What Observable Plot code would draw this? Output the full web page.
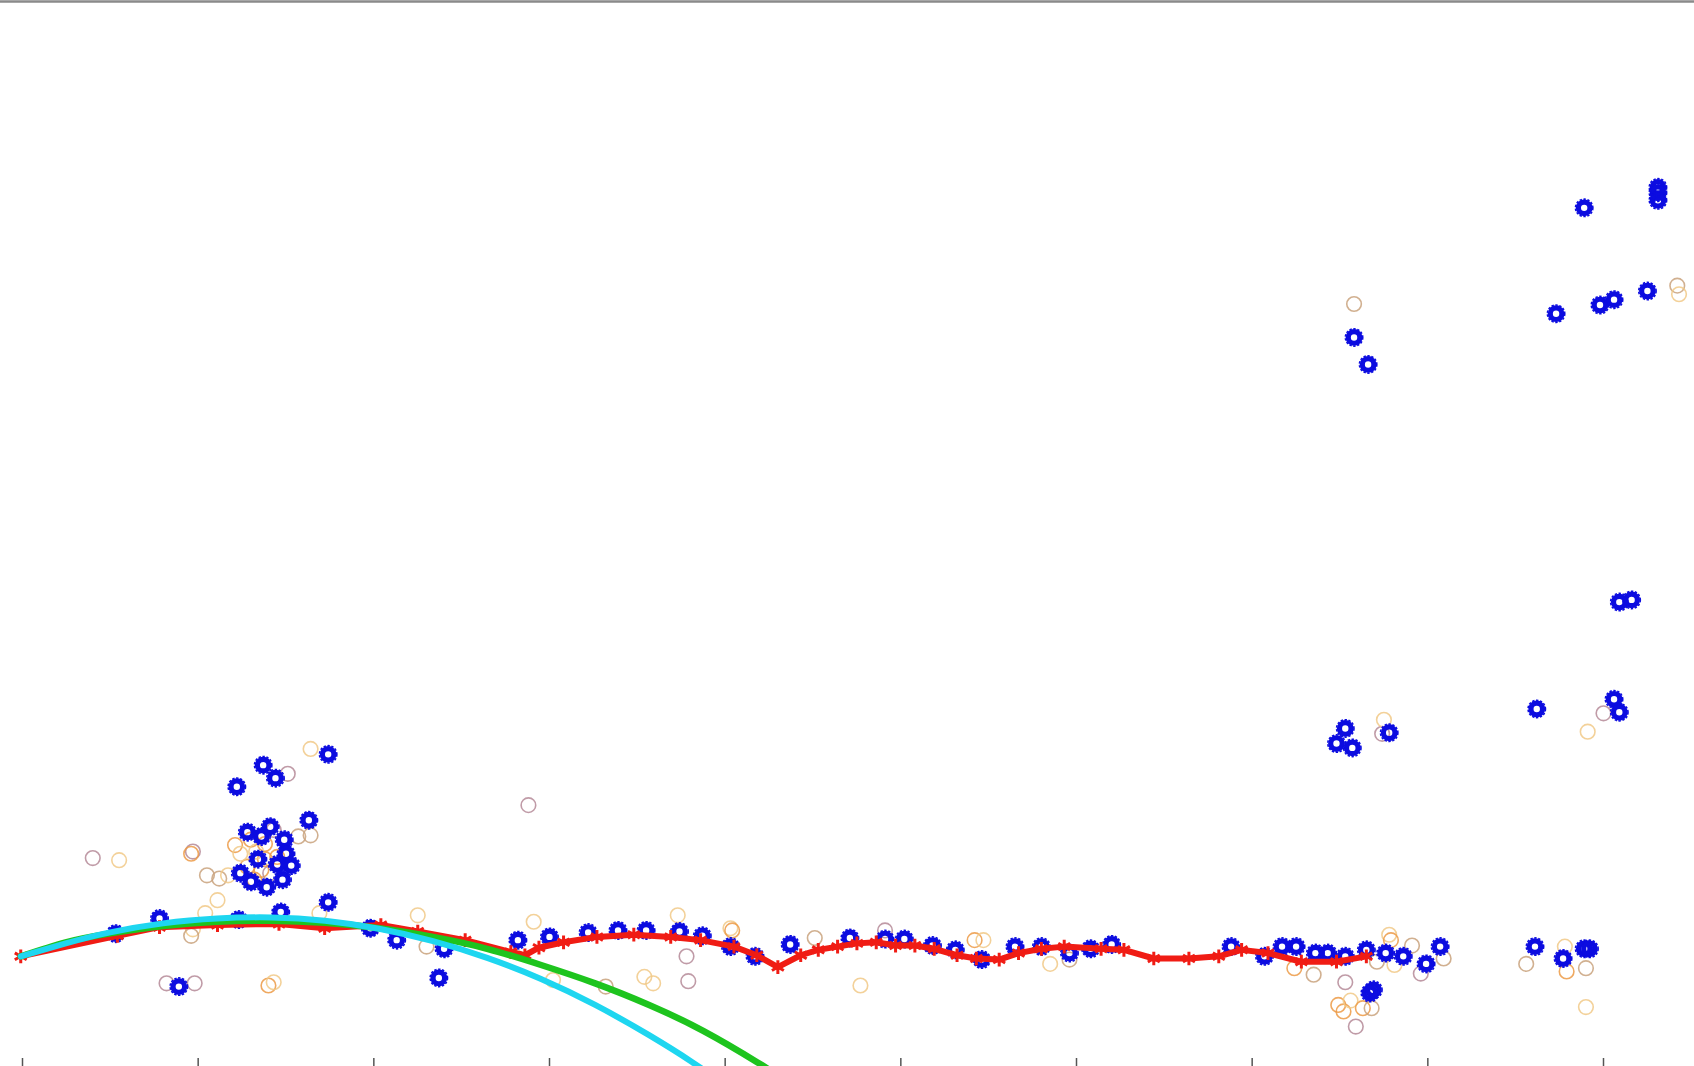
<!DOCTYPE html>
<html>
<head>
<meta charset="utf-8">
<script src="https://cdn.jsdelivr.net/npm/d3@7"></script>
<script src="https://cdn.jsdelivr.net/npm/@observablehq/plot@0.6"></script>
<style>
  html, body { margin: 0; padding: 0; background: #ffffff; }
  #chart { width: 1694px; height: 1066px; overflow: hidden; }
  #chart svg { display: block; }
</style>
</head>
<body>
<div id="chart"></div>
<script>
// ---- data ----
const xTicks = [0, 10, 20, 30, 40, 50, 60, 70, 80, 90];

// blue observations
const blueX = [5.3, 7.8, 8.9, 12.2, 13.7, 14.4, 17.4, 16.3, 15.3, 12.3, 14.7, 17.4, 19.8, 21.3, 23.7, 24.0,
  12.8, 14.1, 14.9, 15.0, 14.8, 13.0, 13.9, 12.4, 13.6, 14.5, 13.4,
  28.2, 30.0, 32.2, 33.9, 35.5, 37.4, 38.7, 40.3, 41.7, 43.7, 47.1, 49.1, 50.2, 51.8, 53.1, 54.6, 56.5, 58.0, 59.6, 60.8, 62.0,
  68.8, 70.7, 71.7, 72.5, 73.6, 74.3, 75.3, 76.5, 77.6, 78.6, 79.9, 80.7, 76.9, 76.7, 86.1, 87.7, 88.9, 89.2,
  75.8, 76.6, 88.9, 93.1, 93.1, 93.1, 87.3, 89.8, 90.6, 92.5,
  90.9, 91.6, 86.2, 90.6, 90.9, 75.3, 74.8, 75.7, 77.8];
const blueY = [12.3, 13.7, 7.4, 25.9, 27.9, 26.7, 28.9, 22.8, 18.6, 13.6, 14.3, 15.2, 12.8, 11.7, 8.2, 10.9,
  21.7, 22.2, 21.0, 19.7, 17.3, 17.1, 16.6, 17.9, 21.3, 18.7, 19.2,
  11.7, 12.0, 12.4, 12.6, 12.6, 12.5, 12.1, 11.1, 10.2, 11.3, 11.9, 11.8, 11.8, 11.2, 10.8, 9.9, 11.1, 11.1, 10.5, 10.9, 11.3,
  11.1, 10.2, 11.1, 11.1, 10.5, 10.5, 10.2, 10.8, 10.5, 10.2, 9.5, 11.1, 7.1, 6.8, 11.1, 10.0, 10.9, 10.9,
  67.5, 65.0, 79.5, 81.4, 80.9, 80.2, 69.7, 70.5, 71.0, 71.8,
  43.0, 43.2, 33.1, 34.0, 32.8, 31.3, 29.9, 29.5, 30.9];

// faint observations (tone = outline hue)
const faintX = [4.0, 5.5, 9.7, 9.6, 10.5, 11.2, 11.7, 11.1, 9.7, 9.6, 8.2, 9.8, 14.0, 14.3, 15.1, 16.4, 15.7, 16.4,
  12.1, 13.0, 13.8, 14.3, 12.8, 13.6, 14.1, 13.2, 14.5, 12.4, 13.8, 13.3, 10.4, 16.9,
  22.5, 23.0, 28.8, 29.1, 30.2, 33.2, 35.4, 35.9, 37.3, 37.8, 37.9, 40.3, 40.4, 45.1, 47.7, 49.1, 54.2, 54.7, 58.5, 59.6,
  72.4, 73.5, 75.3, 74.9, 75.2, 75.6, 76.3, 76.8, 75.9, 77.8, 77.9, 79.1, 78.1, 77.1, 79.6, 80.9, 85.6, 87.8, 87.9, 89.0, 89.0,
  75.8, 94.2, 94.3, 77.4, 77.5, 90.0, 89.1, 91.6];
const faintY = [19.3, 19.1, 19.9, 19.7, 17.7, 17.4, 17.7, 15.4, 12.7, 12.1, 7.7, 7.7, 7.5, 7.8, 27.1, 29.4, 21.3, 21.4,
  20.5, 21.0, 20.6, 21.9, 18.5, 18.2, 17.9, 17.3, 19.4, 19.7, 19.2, 19.9, 14.2, 14.2,
  14.0, 11.1, 24.2, 13.4, 8.0, 7.4, 8.3, 7.7, 14.0, 10.2, 7.9, 12.8, 12.6, 11.9, 7.5, 12.6, 11.7, 11.7, 9.5, 9.9,
  9.1, 8.5, 7.8, 5.7, 5.1, 6.1, 5.4, 5.4, 3.7, 12.2, 11.7, 11.2, 9.4, 9.7, 8.6, 10.0, 9.5, 11.1, 8.8, 9.1, 5.5,
  70.6, 72.3, 71.5, 30.8, 32.1, 32.7, 31.0, 43.2];
const faintTone = ["mauve", "gold", "mauve", "orange", "tan", "tan", "gold", "gold", "gold", "tan", "mauve", "mauve", "orange", "gold", "mauve", "gold", "tan", "tan",
  "orange", "orange", "orange", "mauve", "orange", "orange", "mauve", "orange", "orange", "gold", "orange", "gold", "gold", "gold",
  "gold", "tan", "mauve", "gold", "gold", "tan", "gold", "gold", "gold", "mauve", "mauve", "gold", "orange", "tan", "gold", "mauve", "orange", "gold", "gold", "tan",
  "orange", "tan", "mauve", "orange", "orange", "gold", "orange", "tan", "mauve", "gold", "orange", "tan", "gold", "tan", "mauve", "tan", "tan", "gold", "orange", "tan", "gold",
  "tan", "tan", "gold", "mauve", "gold", "mauve", "gold", "mauve"];
const toneNames = ["tan", "gold", "mauve", "orange"];

// red smoothed series
const redX = [-0.1, 5.4, 7.8, 11.1, 14.6, 17.2, 20.4, 22.5, 25.2, 27.8, 28.6, 29.4, 30.8, 32.7, 34.8, 36.9, 38.6, 40.5,
  41.8, 43.0, 44.3, 45.3, 46.4, 47.5, 48.6, 49.7, 50.8, 51.9, 53.2, 54.3, 55.6, 56.7, 58.0, 59.3, 61.4, 62.7, 64.4,
  66.4, 68.1, 69.4, 70.9, 72.8, 74.8, 76.5];
const redY = [10.2, 12.1, 12.9, 13.1, 13.2, 12.8, 13.1, 12.5, 11.7, 10.6, 10.3, 11.0, 11.5, 12.0, 12.2, 12.0, 11.7, 11.1,
  10.3, 9.2, 10.3, 10.8, 11.1, 11.4, 11.5, 11.2, 11.2, 10.9, 10.3, 10.0, 9.9, 10.5, 10.9, 11.1, 10.9, 10.8, 10.0,
  10.0, 10.2, 10.8, 10.5, 9.7, 9.7, 10.2];

// green fit
const greenX = [-0.1, 2.46, 4.92, 8.0, 11.07, 14.15, 17.22, 20.3, 23.37, 26.45, 29.52, 32.6, 35.67, 38.75, 41.82, 43.05];
const greenY = [10.2, 11.5, 12.3, 13.0, 13.4, 13.5, 13.3, 12.8, 12.0, 10.9, 9.4, 7.7, 5.7, 3.3, 0.4, -0.9];

// cyan fit
const cyanX = [-0.1, 2.46, 4.92, 8.0, 11.07, 14.15, 17.22, 20.3, 23.37, 26.45, 29.52, 32.6, 35.67, 38.13, 39.36];
const cyanY = [10.2, 11.4, 12.4, 13.25, 13.7, 13.8, 13.5, 12.75, 11.6, 10.05, 8.1, 5.7, 2.9, 0.4, -1.0];

// ---- tables built from the arrays ----
const blue = blueX.map((x, i) => ({x, y: blueY[i]}));
const faint = faintX.map((x, i) => ({x, y: faintY[i], tone: faintTone[i]}));
const red = redX.map((x, i) => ({x, y: redY[i]}));
const green = greenX.map((x, i) => ({x, y: greenY[i]}));
const cyan = cyanX.map((x, i) => ({x, y: cyanY[i]}));

const chart = Plot.plot({
  width: 1694,
  height: 1066,
  marginLeft: 22,
  marginRight: 91,
  marginTop: 0,
  marginBottom: 0,
  style: {background: "#ffffff", overflow: "hidden"},
  x: {domain: [0, 90], axis: null},
  y: {domain: [0, 98.7], axis: null},
  color: {domain: toneNames, range: ["#c9a27c", "#f1c987", "#b58a98", "#ec9a45"]},
  marks: [
    Plot.ruleY([98.7], {stroke: "#8a8a8a", strokeWidth: 2.5, dy: 1, insetLeft: -22, insetRight: -91}),
    Plot.axisX(xTicks, {anchor: "bottom", tickSize: -8, tickFormat: () => "", label: null, stroke: "#555555", strokeWidth: 1.5}),
    Plot.dot(faint, {x: "x", y: "y", stroke: "tone", r: 7.3, strokeWidth: 1.6, strokeOpacity: 0.85}),
    Plot.dot(blue, {x: "x", y: "y", r: 5.8, stroke: "#0c0ce0", strokeWidth: 5.2}),
    Plot.dot(blue, {x: "x", y: "y", r: 8.7, stroke: "#0c0ce0", strokeWidth: 1.6, strokeDasharray: "2.4,1.6"}),
    Plot.line(red, {x: "x", y: "y", stroke: "#f01c14", strokeWidth: 6, strokeLinejoin: "round"}),
    Plot.dot(red, {x: "x", y: "y", symbol: "asterisk", r: 6.5, stroke: "#f01c14", strokeWidth: 3}),
    Plot.line(green, {x: "x", y: "y", stroke: "#1ec41e", strokeWidth: 6.5, curve: "natural"}),
    Plot.line(cyan, {x: "x", y: "y", stroke: "#1ed6f0", strokeWidth: 6, curve: "natural"})
  ]
});
document.getElementById("chart").appendChild(chart);
</script>
</body>
</html>
